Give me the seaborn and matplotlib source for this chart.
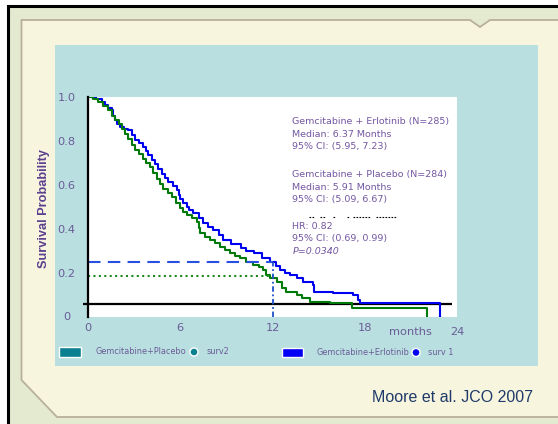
import matplotlib
matplotlib.use("Agg")
import matplotlib.pyplot as plt
import seaborn as sns
import pandas as pd
from matplotlib.patches import Rectangle, Polygon, Ellipse

# ---------------- data ----------------
months_erl = [0, 0.5, 0.9, 1.1, 1.3, 1.54, 1.65, 1.76, 1.9, 2.08, 2.35, 2.62, 2.85, 3.06,
              3.3, 3.6, 3.75, 3.92, 4.15, 4.36, 4.55, 4.79, 5.0, 5.22, 5.5, 5.77, 5.9,
              5.98, 6.2, 6.42, 6.6, 6.85, 7.2, 7.5, 7.8, 8.15, 8.5, 8.8, 9.3, 9.92, 10.3,
              10.8, 11.3, 11.84, 12.2, 12.5, 12.8, 13.14, 13.58, 14.0, 14.66, 14.7, 15.96,
              17.26, 17.58, 17.69, 22.9, 22.9]
surv_erl = [1.0, 0.99, 0.975, 0.962, 0.95, 0.94, 0.915, 0.894, 0.875, 0.863, 0.855, 0.848,
            0.825, 0.803, 0.79, 0.772, 0.752, 0.734, 0.715, 0.696, 0.672, 0.65, 0.632,
            0.613, 0.595, 0.575, 0.555, 0.537, 0.518, 0.5, 0.485, 0.47, 0.447, 0.425, 0.41,
            0.394, 0.37, 0.348, 0.33, 0.311, 0.3, 0.288, 0.268, 0.25, 0.23, 0.212, 0.2,
            0.189, 0.174, 0.159, 0.144, 0.113, 0.106, 0.098, 0.075, 0.06, 0.06, 0.0]

months_pla = [0, 0.35, 0.67, 1.0, 1.32, 1.55, 1.76, 2.0, 2.19, 2.4, 2.62, 2.85, 3.06, 3.3,
              3.6, 3.8, 4.03, 4.25, 4.47, 4.7, 4.9, 5.2, 5.44, 5.7, 5.98, 6.2, 6.42, 6.75,
              7.07, 7.2, 7.28, 7.6, 7.93, 8.25, 8.59, 8.9, 9.24, 9.55, 9.89, 10.3, 10.75,
              11.1, 11.4, 11.6, 11.84, 12.27, 12.6, 12.9, 13.58, 13.9, 14.44, 15.74, 17.17,
              22.03, 22.03]
surv_pla = [1.0, 0.99, 0.977, 0.958, 0.94, 0.915, 0.894, 0.875, 0.856, 0.833, 0.81, 0.783,
            0.757, 0.74, 0.719, 0.7, 0.681, 0.655, 0.628, 0.605, 0.582, 0.562, 0.544, 0.518,
            0.493, 0.478, 0.462, 0.447, 0.432, 0.405, 0.379, 0.364, 0.349, 0.333, 0.318,
            0.303, 0.288, 0.276, 0.265, 0.25, 0.235, 0.224, 0.212, 0.19, 0.174, 0.159,
            0.128, 0.113, 0.098, 0.083, 0.067, 0.06, 0.037, 0.037, 0.0]

arm_names = ["Gemcitabine+Erlotinib", "Gemcitabine+Placebo"]
landmark_month = 12
landmark_erl = 0.248
landmark_pla = 0.185
baseline_level = 0.055

x_ticks = [0, 6, 12, 18]
x_tick_labels = ["0", "6", "12", "18"]
x_extra_label = "24"
y_ticks = [0, 0.2, 0.4, 0.6, 0.8, 1.0]
y_tick_labels = ["0", "0.2", "0.4", "0.6", "0.8", "1.0"]

annot_erl = ["Gemcitabine + Erlotinib (N=285)", "Median: 6.37 Months", "95% CI: (5.95, 7.23)"]
annot_pla = ["Gemcitabine + Placebo (N=284)", "Median: 5.91 Months", "95% CI: (5.09, 6.67)"]
annot_hr = ["HR: 0.82", "95% CI: (0.69, 0.99)", "P=0.0340"]
legend_items = ["Gemcitabine+Placebo", "surv2", "Gemcitabine+Erlotinib", "surv 1"]
source_text = "Moore et al. JCO 2007"

df = pd.concat([
    pd.DataFrame({"month": months_erl, "surv": surv_erl, "arm": arm_names[0]}),
    pd.DataFrame({"month": months_pla, "surv": surv_pla, "arm": arm_names[1]}),
], ignore_index=True)

# ---------------- styling ----------------
W, H = 558, 424
def fx(px):
    return px / W
def fy(py):
    return 1 - py / H

BLUE = "#0000F0"
GREEN = "#007A0A"
TEAL = "#0A8090"
PANEL = "#B9DFE1"
CREAM = "#F7F5DE"
OUTER = "#E3EACF"
TICK_C = "#6A5C96"
ANN_C = "#7457A2"

fig = plt.figure(figsize=(W / 100, H / 100), dpi=100, facecolor="white")

# outer border and slide background
fig.add_artist(Rectangle((fx(8), fy(600)), fx(700) - fx(8), fy(6) - fy(600),
                         transform=fig.transFigure, facecolor=OUTER, edgecolor="black",
                         lw=2.2, zorder=-5))
frame = [(21.5, 20), (470, 20), (480, 27), (490, 20), (640, 20), (640, 417),
         (57, 417), (21.5, 380)]
fig.add_artist(Polygon([(fx(a), fy(b)) for a, b in frame], closed=True,
                       transform=fig.transFigure, facecolor=CREAM, edgecolor="#B9B09A",
                       lw=1.3, zorder=-4))
fig.add_artist(Rectangle((fx(55), fy(366)), fx(538) - fx(55), fy(45) - fy(366),
                         transform=fig.transFigure, facecolor=PANEL, edgecolor="none",
                         zorder=-3))

ax = fig.add_axes([fx(88), fy(316.5), (457 - 88) / W, 219.5 / H])
ax.set_facecolor("white")

sns.lineplot(data=df, x="month", y="surv", hue="arm", palette=[BLUE, GREEN],
             drawstyle="steps-post", estimator=None, sort=False, legend=False,
             linewidth=1.5, ax=ax)

# landmark lines at 12 months
ax.hlines(landmark_erl, 0, landmark_month, colors="#2850E0", linestyles=(0, (6, 3.5)), lw=1.5)
ax.hlines(landmark_pla, 0, landmark_month, colors="#1E8A1E", linestyles=(0, (1, 1.6)), lw=1.5)
ax.vlines(landmark_month, 0, landmark_erl, colors="#1E50C8", linestyles=(0, (3, 1.5, 1, 1.5)), lw=1.3)

# baseline black line
ax.hlines(baseline_level, -0.33, 23.7, colors="black", lw=1.6, clip_on=False, zorder=1)

# faint residue marks from the original slide
for a, b in [(309, 315), (320, 325), (333, 335), (347, 349), (353, 370), (376, 397)]:
    fig.add_artist(plt.Line2D([fx(a), fx(b)], [fy(216.7), fy(216.7)], transform=fig.transFigure,
                              color="black", lw=0.8, ls=(0, (1.5, 1.2))))

ax.set_xlim(0, 24)
ax.set_ylim(0, 1.0)
ax.set_xticks(x_ticks)
ax.set_xticklabels(x_tick_labels)
ax.set_yticks(y_ticks)
ax.set_yticklabels(y_tick_labels, ha="center")
ax.tick_params(axis="both", length=0, labelsize=8.2, labelcolor=TICK_C)
ax.tick_params(axis="y", pad=15.5)
ax.tick_params(axis="x", pad=5.0)
ax.set_xlabel("")
ax.set_ylabel("")
for s in ["top", "right", "bottom"]:
    ax.spines[s].set_visible(False)
ax.spines["left"].set_color("black")
ax.spines["left"].set_linewidth(1.6)
ax.grid(False)

# extra x labels
tr = ax.get_xaxis_transform()
ax.text(24, -0.05, x_extra_label, transform=tr, ha="center", va="top",
        fontsize=8.2, color=TICK_C, clip_on=False)
ax.text(21.0, -0.05, "months", transform=tr, ha="center", va="top",
        fontsize=8.2, color=TICK_C, clip_on=False)

fig.text(fx(44), fy(208), "Survival Probability", rotation=90, ha="center", va="center",
         fontsize=9.2, fontweight="bold", color="#5C408E", family="Liberation Sans")

# annotation block
ys = [121.7, 134.3, 146.7, 174, 187.3, 199.3, 226, 238.3, 251.7]
lines = annot_erl + annot_pla + annot_hr
for t, yy in zip(lines, ys):
    fig.text(fx(292.5), fy(yy), t, ha="left", va="center", fontsize=6.8, color=ANN_C,
             style="italic" if t.startswith("P=") else "normal")

# legend row
def dot(xc, yc, color):
    fig.add_artist(Ellipse((fx(xc), fy(yc)), 8 / W, 8 / H, transform=fig.transFigure,
                           facecolor=color, edgecolor="white", lw=1.0))

fig.add_artist(Rectangle((fx(59.5), fy(356.5)), fx(81) - fx(59.5), fy(347) - fy(356.5),
                         transform=fig.transFigure, facecolor=TEAL, edgecolor="white", lw=1.0))
fig.text(fx(95), fy(352), legend_items[0], ha="left", va="center", fontsize=5.9, color=TICK_C)
dot(194, 352, TEAL)
fig.text(fx(206.5), fy(352), legend_items[1], ha="left", va="center", fontsize=5.9, color=TICK_C)
fig.add_artist(Rectangle((fx(281.5), fy(357)), fx(303) - fx(281.5), fy(348) - fy(357),
                         transform=fig.transFigure, facecolor="#0000F5", edgecolor="white", lw=1.0))
fig.text(fx(316.5), fy(352.5), legend_items[2], ha="left", va="center", fontsize=5.9, color=TICK_C)
dot(416, 352.5, "#0000F5")
fig.text(fx(428.5), fy(352.5), legend_items[3], ha="left", va="center", fontsize=5.9, color=TICK_C)

fig.text(fx(533), fy(397), source_text, ha="right", va="center", fontsize=11.5,
         color="#1F3A6A", family="Liberation Sans")

fig.savefig("out.png", dpi=100, facecolor=fig.get_facecolor())
